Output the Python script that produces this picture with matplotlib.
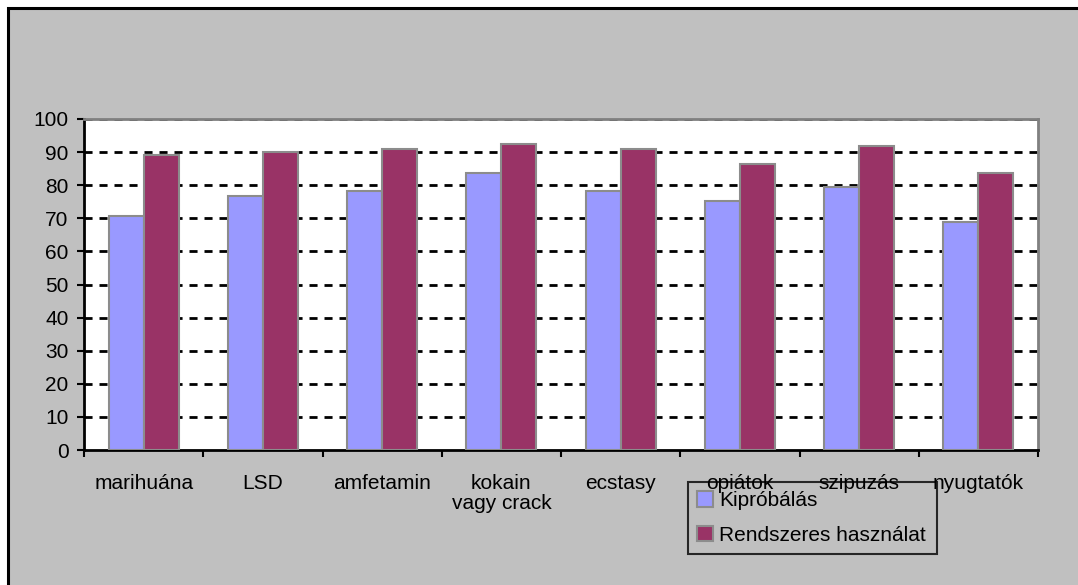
import matplotlib.pyplot as plt
import matplotlib.patches as mpatches
import numpy as np

plt.rcParams['font.family'] = ['Liberation Sans', 'DejaVu Sans']
plt.rcParams['lines.scale_dashes'] = False

# data
categories = ['marihuána', 'LSD', 'amfetamin', 'kokain\nvagy crack', 'ecstasy',
              'opiátok', 'szipuzás', 'nyugtatók']
kiprobalas = [70.7, 76.7, 78.2, 83.7, 78.2, 75.2, 79.5, 68.9]
rendszeres = [89.1, 90.0, 90.9, 92.4, 90.9, 86.4, 91.8, 83.7]
series_names = ['Kipróbálás', 'Rendszeres használat']
yticks = [0, 10, 20, 30, 40, 50, 60, 70, 80, 90, 100]

W, H = 1078, 585
fig = plt.figure(figsize=(W / 100, H / 100), dpi=100)
fig.patch.set_facecolor('white')

# grey chart area with black frame (only top/left visible)
bg = mpatches.Rectangle((7.5 / W, -0.2), 1.5, (H - 7.5) / H + 0.2,
                        transform=fig.transFigure, facecolor='#C0C0C0',
                        edgecolor='black', linewidth=2.2, zorder=-5)
fig.patches.append(bg)

ax = fig.add_axes([84 / W, (H - 450) / H, 954 / W, 331 / H])
ax.set_facecolor('white')

x = np.arange(len(categories))
w = 0.293
ax.bar(x - w / 2, kiprobalas, w, color='#9999FF', edgecolor='#8c8c8c',
       linewidth=1.5, zorder=3, label=series_names[0])
ax.bar(x + w / 2, rendszeres, w, color='#993366', edgecolor='#8c8c8c',
       linewidth=1.5, zorder=3, label=series_names[1])

ax.set_xlim(-0.5, len(categories) - 0.5)
ax.set_ylim(0, 100)

# dashed gridlines
for v in yticks[1:]:
    ax.axhline(v, color='black', linewidth=2, linestyle=(0, (5.8, 5.0)), zorder=1)

ax.set_yticks(yticks)
ax.tick_params(axis='y', direction='out', length=5, width=1.5, pad=6,
               labelsize=15)

# category boundary ticks, labels in the middle
ax.set_xticks(np.arange(len(categories) + 1) - 0.5)
ax.set_xticklabels([])
ax.set_xticks(x, minor=True)
ax.set_xticklabels(categories, minor=True, fontsize=15, linespacing=1.12)
ax.tick_params(axis='x', which='major', direction='out', length=5, width=1.5)
ax.tick_params(axis='x', which='minor', length=0, pad=17)

for side in ['left', 'bottom']:
    ax.spines[side].set_color('black')
    ax.spines[side].set_linewidth(2)
for side in ['top', 'right']:
    ax.spines[side].set_color('#808080')
    ax.spines[side].set_linewidth(2)

leg = fig.legend(loc='upper left',
                 bbox_to_anchor=(688 / W, (H - 482) / H, (937 - 688) / W, 0),
                 mode='expand', fontsize=15, frameon=True, fancybox=False,
                 handlelength=0.75, handleheight=0.75, handletextpad=0.3,
                 borderpad=0.45, labelspacing=0.75, borderaxespad=0)
leg.set_zorder(10)
leg.get_frame().set_facecolor('none')
leg.get_frame().set_edgecolor('black')
leg.get_frame().set_linewidth(1.5)

fig.savefig('out.png', dpi=100)
